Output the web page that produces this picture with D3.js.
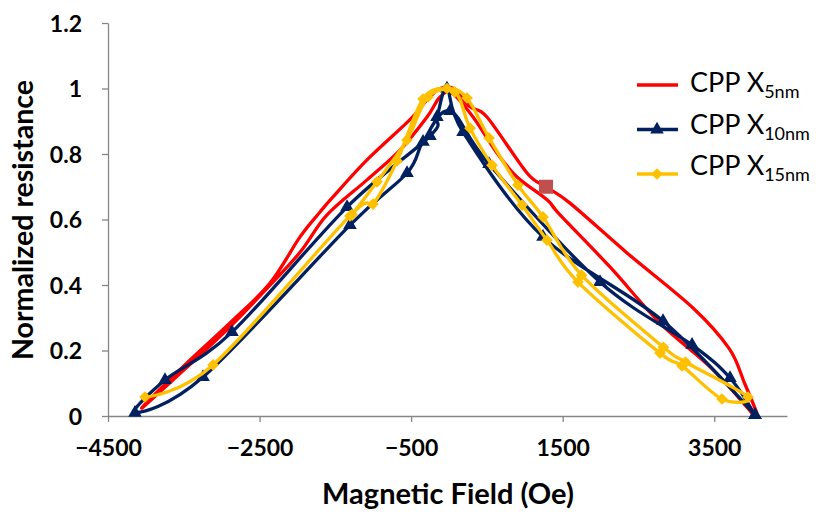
<!DOCTYPE html>
<html>
<head>
<meta charset="utf-8">
<script src="https://cdn.jsdelivr.net/npm/d3@7"></script>
<style>
  body { margin: 0; background: #fff; }
  text { font-family: Lato, "Open Sans", sans-serif; fill: #000; }
</style>
</head>
<body>
<svg id="chart" width="836" height="514"></svg>
<script>
// Magnetoresistance loops: field (Oe) vs normalized resistance, one sweep down and one back up per sample.
const field5nm = [4064, 3900, 3700, 3220, 2349, 1597, 1280, 1029, 501, 277, 60, -119, -290, -515, -1082, -1531, -1702, -1966, -2362, -2890, -3458, -4056,
                  -3500, -2900, -2400, -1966, -1610, -1082, -647, -290, -119, 40, 317, 633, 897, 1293, 1465, 2124, 2784, 3444, 3932, 4012];
const res5nm   = [0.009, 0.100, 0.205, 0.330, 0.498, 0.650, 0.700, 0.742, 0.913, 0.944, 1.0, 1.0, 0.965, 0.905, 0.782, 0.669, 0.623, 0.547, 0.406, 0.284, 0.162, 0.024,
                  0.140, 0.270, 0.390, 0.500, 0.614, 0.721, 0.812, 0.913, 0.974, 0.985, 0.913, 0.803, 0.730, 0.660, 0.614, 0.455, 0.284, 0.150, 0.027, 0.0];

const field10nm = [4038, 3708, 3207, 1992, 528, 13, -343, -554, -1307, -3246, -4144,
                   -3748, -2864, -1346, -251, -159, -27, 185, 1240, 2824, 4038];
const res10nm   = [0.003, 0.116, 0.217, 0.409, 0.769, 0.931, 0.837, 0.742, 0.583, 0.119, 0.010,
                   0.110, 0.256, 0.638, 0.855, 0.913, 1.0, 0.867, 0.547, 0.290, 0.003];

const field15nm = [-4012, -3114, -1307, -1003, -686, -343, -27, 237, 528, 910, 1240, 1750, 2830, 3120, 3946,
                   3602, 3075, 2784, 1702, 1293, 963, 567, 277, 79, -277, -554, -950, -1280];
const res15nm   = [0.058, 0.156, 0.611, 0.647, 0.779, 0.968, 1.0, 0.971, 0.849, 0.705, 0.608, 0.430, 0.210, 0.165, 0.058,
                   0.052, 0.153, 0.192, 0.409, 0.537, 0.644, 0.766, 0.879, 0.989, 0.974, 0.843, 0.715, 0.615];

// Single highlighted point on the 5 nm loop
const highlightField = [1280];
const highlightRes = [0.700];

const seriesNames = ["5nm", "10nm", "15nm"];
const xTickValues = [-4500, -2500, -500, 1500, 3500];
const yTickValues = [0, 0.2, 0.4, 0.6, 0.8, 1, 1.2];
const yTickLabels = ["0", "0.2", "0.4", "0.6", "0.8", "1", "1.2"];

const svg = d3.select("#chart");
const x = d3.scaleLinear().domain([-4500, 4460]).range([108, 787]);
const y = d3.scaleLinear().domain([0, 1.2]).range([416, 23]);

const axisColor = "#868686";

// Axes
const gx = svg.append("g").attr("transform", "translate(0,416)")
  .call(d3.axisBottom(x).tickValues(xTickValues).tickSize(6).tickSizeOuter(0).tickFormat(d3.format("d")));
const gy = svg.append("g").attr("transform", "translate(108,0)")
  .call(d3.axisLeft(y).tickValues(yTickValues).tickSize(6).tickSizeOuter(0).tickFormat((d, i) => yTickLabels[i]));
[gx, gy].forEach(g => {
  g.select(".domain").attr("stroke", axisColor).attr("stroke-width", 1.3);
  g.selectAll(".tick line").attr("stroke", axisColor).attr("stroke-width", 1.3);
  g.selectAll(".tick text").attr("font-family", "Lato, sans-serif").attr("font-weight", "bold")
    .attr("font-size", 23).attr("fill", "#000");
});
gx.selectAll(".tick text").attr("dy", null).attr("y", 40);
gy.selectAll(".tick text").attr("x", -26).attr("dy", "0.35em");

// Axis titles
svg.append("text").attr("x", 448).attr("y", 504).attr("text-anchor", "middle")
  .attr("font-weight", "bold").attr("font-size", 29).text("Magnetic Field (Oe)");
svg.append("text").attr("transform", "translate(33,220) rotate(-90)").attr("text-anchor", "middle")
  .attr("font-weight", "bold").attr("font-size", 28.5).text("Normalized resistance");

const line = d3.line().x(d => x(d[0])).y(d => y(d[1])).curve(d3.curveCardinal.tension(0));

const red = "#FF0000", navy = "#002060", gold = "#FFC000";

const pts5 = field5nm.map((f, i) => [f, res5nm[i]]);
const pts10 = field10nm.map((f, i) => [f, res10nm[i]]);
const pts15 = field15nm.map((f, i) => [f, res15nm[i]]);

const triangle = d3.symbol().type(d3.symbolTriangle).size(80);
const diamond = d3.symbol().type(d3.symbolSquare).size(68);

// 5 nm loop
svg.append("path").datum(pts5).attr("d", line).attr("fill", "none").attr("stroke", red).attr("stroke-width", 3.3);
svg.selectAll(".hl").data(highlightField).enter().append("rect")
  .attr("x", d => x(d) - 7).attr("y", (d, i) => y(highlightRes[i]) - 7)
  .attr("width", 14).attr("height", 14).attr("fill", "#C0504D");

// 10 nm loop
svg.append("path").datum(pts10).attr("d", line).attr("fill", "none").attr("stroke", navy).attr("stroke-width", 3.3);
svg.selectAll(".tri").data(pts10).enter().append("path")
  .attr("d", triangle).attr("fill", navy)
  .attr("transform", d => `translate(${x(d[0])},${y(d[1])})`);

// 15 nm loop
svg.append("path").datum(pts15).attr("d", line).attr("fill", "none").attr("stroke", gold).attr("stroke-width", 3.3);
svg.selectAll(".dia").data(pts15).enter().append("path")
  .attr("d", diamond).attr("fill", gold)
  .attr("transform", d => `translate(${x(d[0])},${y(d[1])}) rotate(45)`);

// Legend
const legendColors = [red, navy, gold];
const legend = svg.append("g");
seriesNames.forEach((name, i) => {
  const ly = 85 + i * 44.5;
  const ty = 92 + i * 41.5;
  legend.append("line").attr("x1", 637).attr("x2", 678).attr("y1", ly).attr("y2", ly)
    .attr("stroke", legendColors[i]).attr("stroke-width", 3.3);
  if (i === 1) legend.append("path").attr("d", triangle).attr("fill", navy).attr("transform", `translate(657,${ly})`);
  if (i === 2) legend.append("path").attr("d", diamond).attr("fill", gold).attr("transform", `translate(657,${ly}) rotate(45)`);
  const t = legend.append("text").attr("x", 690).attr("y", ty).attr("font-size", 27);
  t.append("tspan").text("CPP X");
  t.append("tspan").attr("font-size", 18).attr("dy", 6).text(name);
});
</script>
</body>
</html>
